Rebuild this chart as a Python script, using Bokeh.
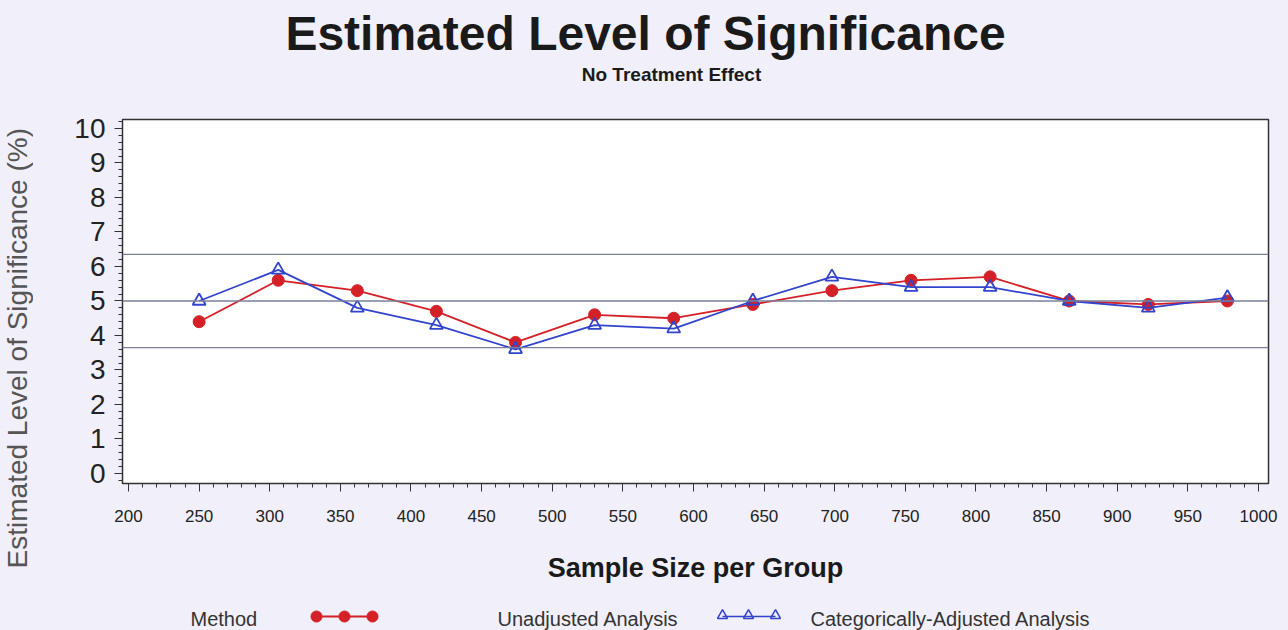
from bokeh.plotting import figure
from bokeh.models import Range1d, SingleIntervalTicker, Span, ColumnDataSource, Div
from bokeh.layouts import column, row
from bokeh.embed import file_html
from bokeh.resources import INLINE
from bokeh.core.properties import value

# ---------------- data ----------------
sample_size = [250, 306, 362, 418, 474, 530, 586, 642, 698, 754, 810, 866, 922, 978]
unadjusted = [4.4, 5.6, 5.3, 4.7, 3.8, 4.6, 4.5, 4.9, 5.3, 5.6, 5.7, 5.0, 4.9, 5.0]
cat_adjusted = [5.0, 5.9, 4.8, 4.3, 3.6, 4.3, 4.2, 5.0, 5.7, 5.4, 5.4, 5.0, 4.8, 5.1]
ref_levels = [3.65, 5.0, 6.35]

title_text = "Estimated Level of Significance"
subtitle_text = "No Treatment Effect"
x_label = "Sample Size per Group"
y_label = "Estimated Level of Significance (%)"
legend_title = "Method"
series_names = ["Unadjusted Analysis", "Categorically-Adjusted Analysis"]

BG = "#f1eff9"
RED = "#d42027"
BLUE = "#3344cc"
FONT = "Liberation Sans"
W = 1288
FL, FR = 122, 1268   # plot frame left / right in page pixels
HH, MH, LH = 111, 479, 40   # header, main, legend heights
YW = 40                      # width of the strip holding the y label


def blank(fig):
    fig.axis.visible = False
    fig.grid.visible = False
    fig.outline_line_color = None
    fig.background_fill_color = BG
    fig.border_fill_color = BG


# ---------------- header ----------------
hdr = figure(width=W, height=HH, x_range=Range1d(FL, FR), y_range=Range1d(HH, 0),
             output_backend="svg", toolbar_location=None, min_border=0,
             min_border_left=FL, min_border_right=W - FR)
blank(hdr)
hdr.text(x=[645], y=[33], text=[title_text], text_font=value(FONT), text_font_size="48px",
         text_font_style="bold", text_color="#1a1a1a", text_align="center", text_baseline="middle")
hdr.text(x=[671], y=[74], text=[subtitle_text], text_font=value(FONT), text_font_size="19px",
         text_font_style="bold", text_color="#1a1a1a", text_align="center", text_baseline="middle")

# ---------------- y label strip (rotated HTML text) ----------------
ylab_html = (
    '<div style="margin:17px 0 0 4px; writing-mode:vertical-rl; transform:rotate(180deg);'
    ' white-space:nowrap; line-height:28px; font-family:\'Liberation Sans\'; font-size:28px;'
    ' color:#555555;">' + y_label + '</div>'
)
ylab = Div(text=ylab_html, width=YW, height=MH,
           styles={"background-color": BG, "overflow": "visible", "margin": "0", "padding": "0"})

# ---------------- main ----------------
x0, x1 = 195.75, 1007.1
y0, y1 = -0.29, 10.26
p = figure(width=W - YW, height=MH, x_range=Range1d(x0, x1), y_range=Range1d(y0, y1),
           output_backend="svg", toolbar_location=None,
           min_border_left=FL - YW, min_border_right=W - FR, min_border_top=8, min_border_bottom=107)
p.background_fill_color = "white"
p.border_fill_color = BG
p.outline_line_color = "#333333"
p.outline_line_width = 1.5
p.grid.visible = False

p.xaxis.ticker = SingleIntervalTicker(interval=50, num_minor_ticks=5)
p.yaxis.ticker = SingleIntervalTicker(interval=1, num_minor_ticks=5)
for ax in (p.xaxis, p.yaxis):
    ax.axis_line_color = "#333333"
    ax.major_tick_line_color = "#333333"
    ax.minor_tick_line_color = "#333333"
    ax.major_tick_out = 8
    ax.major_tick_in = 0
    ax.minor_tick_out = 4
    ax.minor_tick_in = 0
p.xaxis.major_label_text_font = FONT
p.xaxis.major_label_text_font_size = "17px"
p.xaxis.major_label_text_color = "#222222"
p.xaxis.major_label_standoff = 18
p.yaxis.major_label_text_font = FONT
p.yaxis.major_label_text_font_size = "28px"
p.yaxis.major_label_text_color = "#222222"
p.yaxis.major_label_standoff = 9

p.xaxis.axis_label = x_label
p.xaxis.axis_label_text_font = FONT
p.xaxis.axis_label_text_font_size = "27px"
p.xaxis.axis_label_text_font_style = "bold"
p.xaxis.axis_label_text_color = "#1a1a1a"
p.xaxis.axis_label_standoff = 28

for lv in ref_levels:
    p.add_layout(Span(location=lv, dimension="width", line_color="#7a7f9a", line_width=1.3))

src = ColumnDataSource(dict(x=sample_size, u=unadjusted, c=cat_adjusted))
p.line("x", "u", source=src, line_color=RED, line_width=1.8)
p.scatter("x", "u", source=src, marker="circle", size=12, fill_color=RED, line_color=RED)
p.line("x", "c", source=src, line_color=BLUE, line_width=1.8)
p.scatter("x", "c", source=src, marker="triangle", size=13, fill_color=None, line_color=BLUE,
          line_width=1.8)

# ---------------- legend ----------------
leg = figure(width=W, height=LH, x_range=Range1d(FL, FR), y_range=Range1d(LH, 0),
             output_backend="svg", toolbar_location=None, min_border=0,
             min_border_left=FL, min_border_right=W - FR)
blank(leg)
ly = 28
leg.text(x=[190], y=[ly], text=[legend_title], text_font=value(FONT), text_font_size="20px",
         text_color="#333333", text_baseline="middle")
leg.line(x=[316, 372], y=[ly - 2, ly - 2], line_color=RED, line_width=1.8)
leg.scatter(x=[316, 344, 372], y=[ly - 2] * 3, marker="circle", size=11, fill_color=RED, line_color=RED)
leg.text(x=[497], y=[ly], text=[series_names[0]], text_font=value(FONT), text_font_size="20px",
         text_color="#333333", text_baseline="middle")
leg.line(x=[722, 775], y=[ly - 2, ly - 2], line_color=BLUE, line_width=1.5)
leg.scatter(x=[722, 748, 775], y=[ly - 3] * 3, marker="triangle", size=10, fill_color=None,
            line_color=BLUE, line_width=1.5)
leg.text(x=[810], y=[ly], text=[series_names[1]], text_font=value(FONT), text_font_size="20px",
         text_color="#333333", text_baseline="middle")

layout = column(hdr, row(ylab, p, spacing=0), leg, spacing=0, styles={"background-color": BG})
open("out.html", "w").write(file_html(layout, INLINE))
